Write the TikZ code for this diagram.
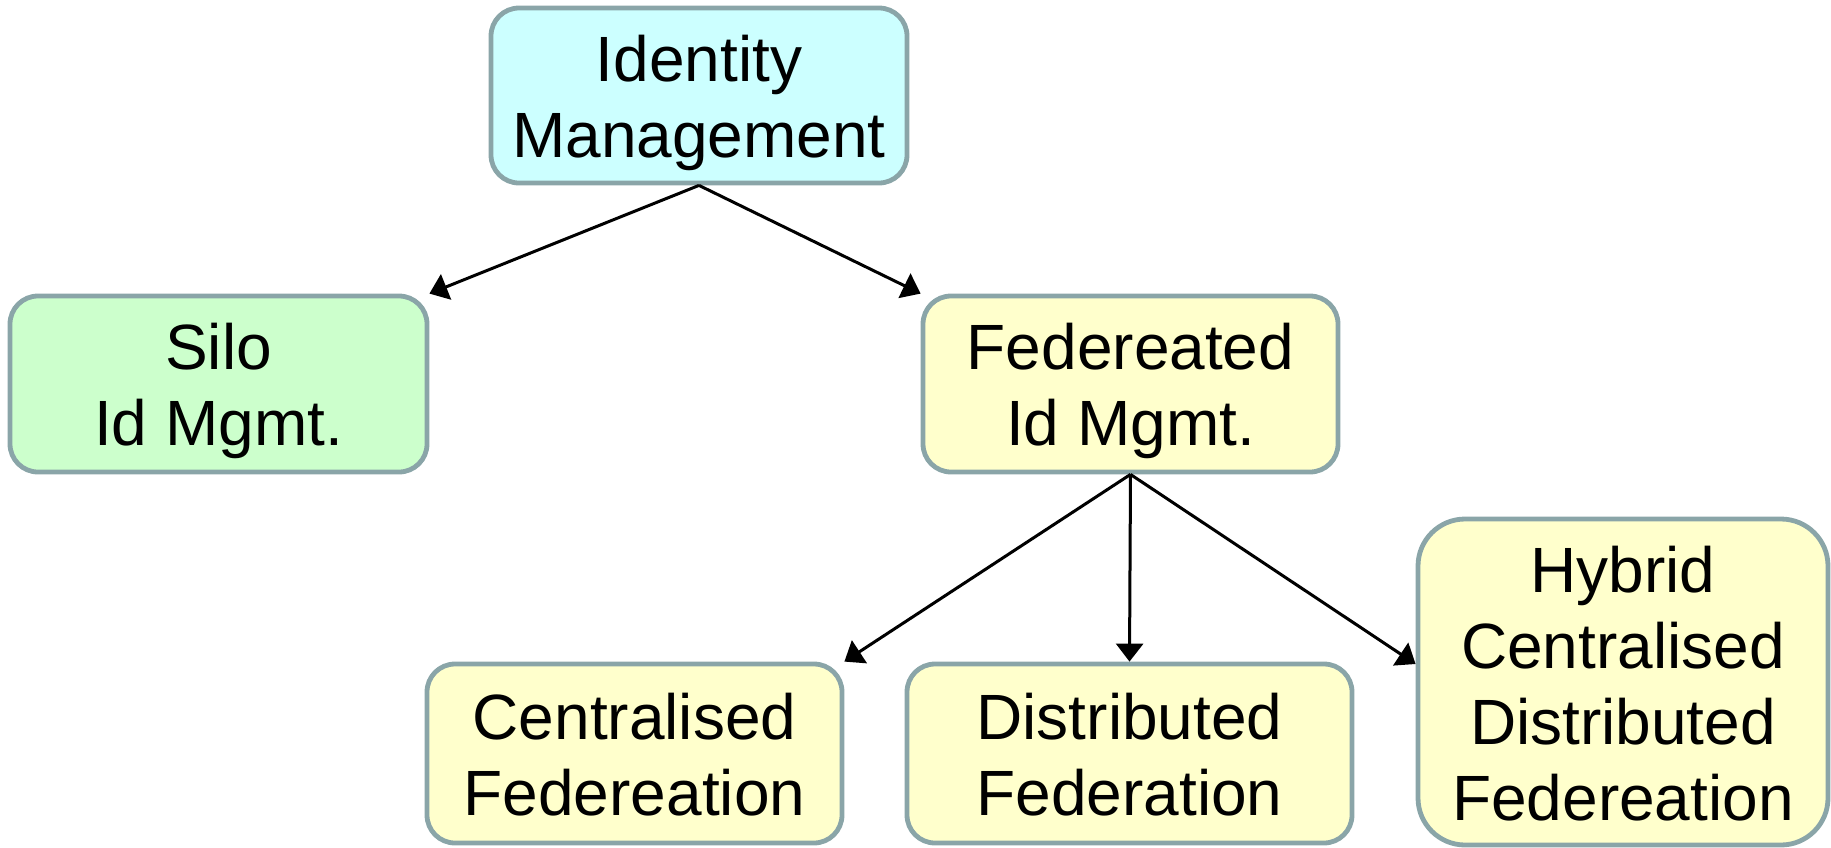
\documentclass[tikz,border=0pt]{standalone}
\usepackage{fontspec}
\setmainfont{Liberation Sans}
\usetikzlibrary{arrows.meta}
\definecolor{bordergray}{HTML}{8AA5A8}
\definecolor{fillcyan}{HTML}{CCFFFF}
\definecolor{fillgreen}{HTML}{CCFFCC}
\definecolor{fillyellow}{HTML}{FFFFCC}
\newcommand\lnstrut{\rule[-6.4pt]{0pt}{36.8pt}}
\begin{document}
\begin{tikzpicture}[x=0.5pt,y=-0.5pt,
  box/.style={draw=bordergray, line width=2.4pt, rounded corners=14pt,
    inner sep=0pt, align=center, font=\fontsize{32pt}{38pt}\selectfont},
  conn/.style={draw=black, line width=1.5pt,
    -{Triangle[length=9pt,width=13.5pt]}}]
\useasboundingbox (0,0) rectangle (1831,847);
\node[box, fill=fillcyan, minimum width=208pt, minimum height=87.5pt] (id) at (699,95.5)
  {\lnstrut Identity\\\lnstrut Management};
\node[box, fill=fillgreen, minimum width=208.5pt, minimum height=88pt] (silo) at (218.5,384)
  {\lnstrut Silo\\\lnstrut Id Mgmt.};
\node[box, fill=fillyellow, minimum width=207.5pt, minimum height=88pt] (fed) at (1130.5,384)
  {\lnstrut Federeated\\\lnstrut Id Mgmt.};
\node[box, fill=fillyellow, minimum width=207.5pt, minimum height=89.5pt] (cen) at (634.5,753.5)
  {\lnstrut Centralised\\\lnstrut Federeation};
\node[box, fill=fillyellow, minimum width=222.5pt, minimum height=89.5pt] (dis) at (1129.5,753.5)
  {\lnstrut Distributed\\\lnstrut Federation};
\node[box, fill=fillyellow, rounded corners=23.5pt, minimum width=205pt, minimum height=163pt] (hyb) at (1623,682)
  {\lnstrut Hybrid\\\lnstrut Centralised\\\lnstrut Distributed\\\lnstrut Federeation};
\draw[conn] (id.south) -- (silo.north east);
\draw[conn] (id.south) -- (fed.north west);
\draw[conn] (fed.south) -- (cen.north east);
\draw[conn] (fed.south) -- (dis.north);
\draw[conn] (fed.south) -- ([yshift=9pt]hyb.west);
\end{tikzpicture}
\end{document}
